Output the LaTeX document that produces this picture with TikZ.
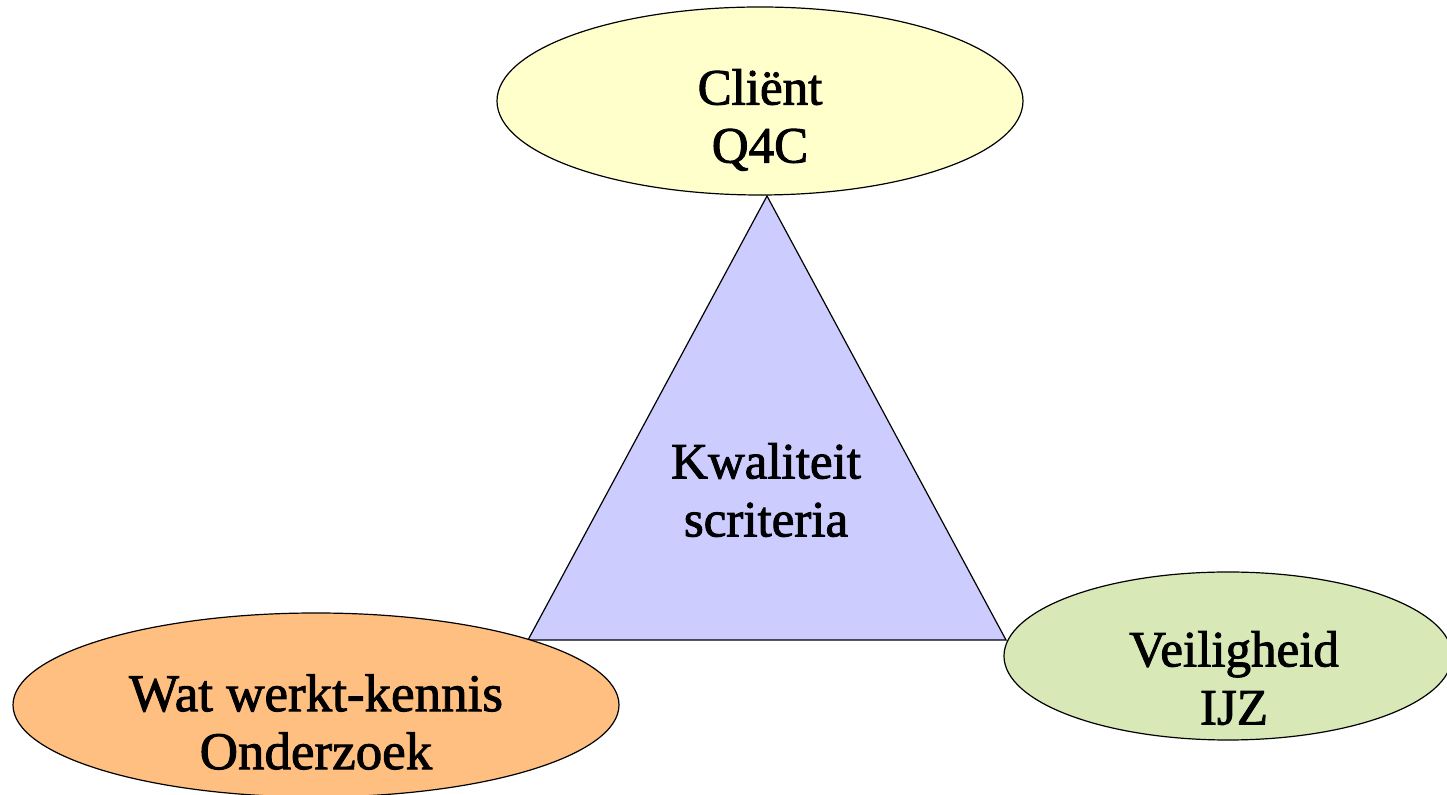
\documentclass[tikz,border=0pt]{standalone}
\usepackage{fontspec}
\setmainfont{Liberation Serif}[FakeBold=1.8]
\usetikzlibrary{shapes.geometric}

\definecolor{clientgeel}{HTML}{FFFFCC}
\definecolor{kwalblauw}{HTML}{CCCCFF}
\definecolor{wwkoranje}{HTML}{FFBF80}
\definecolor{veiliggroen}{HTML}{D8E8B6}

\tikzset{
    bol/.style={ellipse,draw,line width=0.6pt,inner sep=0pt},
    tekst/.style={align=center,font=\fontsize{25.5}{29}\selectfont},
}

\begin{document}
\begin{tikzpicture}[x=0.5pt,y=-0.5pt]
        \useasboundingbox (0,0) rectangle (1447,795);
        \clip (0,0) rectangle (1447,795);

        % driehoek
        \coordinate (top) at (767,196);
        \coordinate (links) at (528,640);
        \coordinate (rechts) at (1006,640);
        \draw[fill=kwalblauw, line width=0.6pt] (top) -- (links) -- (rechts) -- cycle;
        \node[tekst] (kwal) at (766,490) {Kwaliteit\\scriteria};

        \node[bol, fill=clientgeel, minimum width=263pt, minimum height=94pt] (client) at (760,101) {};
        \node[tekst] (clienttekst) at (760,120) {Cliënt\\Q4C};

        \node[bol, fill=wwkoranje, minimum width=303pt, minimum height=92pt] (wwk) at (316,705) {};
        \node[tekst, font=\fontsize{26.5}{29}\selectfont] (wwktekst) at (316,722) {Wat werkt-kennis\\Onderzoek};

        \node[bol, fill=veiliggroen, minimum width=224pt, minimum height=84pt] (veilig) at (1228,656) {};
        \node[tekst] (veiligtekst) at (1234,678) {Veiligheid\\IJZ};
    \end{tikzpicture}
\end{document}
